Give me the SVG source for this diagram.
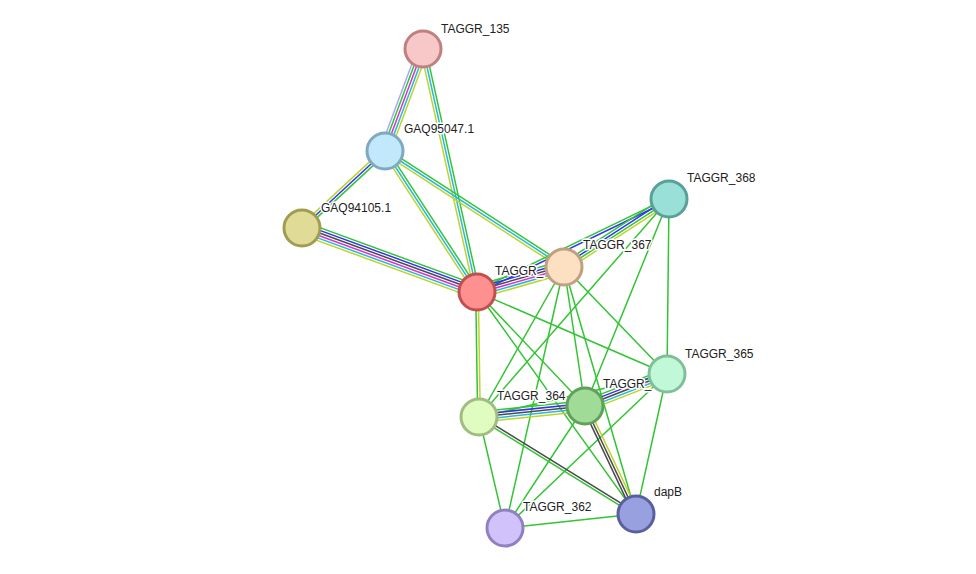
<svg xmlns="http://www.w3.org/2000/svg" width="976" height="574" viewBox="0 0 976 574">
<style>
.e line{stroke-width:1.5;fill:none}
.g{stroke:#33c433}.c{stroke:#2ab8d8}.m{stroke:#d434d4}.b{stroke:#3333ee}.k{stroke:#4a4a4a}.y{stroke:#bcd42c}.l{stroke:#a8a8f8}
.n circle{stroke-width:3}
.n text{font-family:"Liberation Sans",Arial,sans-serif;font-size:12px;fill:#222;stroke:#fff;stroke-width:3;stroke-linejoin:round;paint-order:stroke}
</style>
<rect width="976" height="574" fill="#fff"/>
<g id="connectors" class="e">
<!-- TAGGR_135 - GAQ95047.1 -->
<g transform="translate(423 49) rotate(110.43)">
<line class="l" x1="0" y1="5.2" x2="108.85" y2="5.2"/>
<line class="g" x1="0" y1="2.6" x2="108.85" y2="2.6"/>
<line class="m" x1="0" y1="0" x2="108.85" y2="0"/>
<line class="c" x1="0" y1="-2.6" x2="108.85" y2="-2.6"/>
<line class="y" x1="0" y1="-5.2" x2="108.85" y2="-5.2"/>
</g>
<!-- TAGGR_135 - TAGGR -->
<g transform="translate(423 49) rotate(77.47)">
<line class="y" x1="0" y1="2.6" x2="248.9" y2="2.6"/>
<line class="c" x1="0" y1="0" x2="248.9" y2="0"/>
<line class="g" x1="0" y1="-2.6" x2="248.9" y2="-2.6"/>
</g>
<!-- GAQ95047.1 - GAQ94105.1 -->
<g transform="translate(385 151) rotate(137.15)">
<line class="y" x1="0" y1="2.6" x2="113.2" y2="2.6"/>
<line class="b" x1="0" y1="0" x2="113.2" y2="0"/>
<line class="g" x1="0" y1="-2.6" x2="113.2" y2="-2.6"/>
</g>
<!-- GAQ95047.1 - TAGGR -->
<g transform="translate(385 151) rotate(56.88)">
<line class="y" x1="0" y1="2.6" x2="168.4" y2="2.6"/>
<line class="c" x1="0" y1="0" x2="168.4" y2="0"/>
<line class="g" x1="0" y1="-2.6" x2="168.4" y2="-2.6"/>
</g>
<!-- GAQ95047.1 - TAGGR_367 -->
<g transform="translate(385 151) rotate(32.95)">
<line class="y" x1="0" y1="2.6" x2="213.3" y2="2.6"/>
<line class="c" x1="0" y1="0" x2="213.3" y2="0"/>
<line class="g" x1="0" y1="-2.6" x2="213.3" y2="-2.6"/>
</g>
<!-- GAQ94105.1 - TAGGR -->
<g transform="translate(302 228) rotate(20.09)">
<line class="g" x1="0" y1="-6.5" x2="186.3" y2="-6.5"/>
<line class="b" x1="0" y1="-3.9" x2="186.3" y2="-3.9"/>
<line class="k" x1="0" y1="-1.3" x2="186.3" y2="-1.3"/>
<line class="m" x1="0" y1="1.3" x2="186.3" y2="1.3"/>
<line class="c" x1="0" y1="3.9" x2="186.3" y2="3.9"/>
<line class="y" x1="0" y1="6.5" x2="186.3" y2="6.5"/>
</g>
<!-- TAGGR - TAGGR_368 -->
<g transform="translate(477 292) rotate(-25.84)">
<line class="g" x1="0" y1="-1.3" x2="213.3" y2="-1.3"/>
<line class="b" x1="0" y1="1.3" x2="213.3" y2="1.3"/>
</g>
<!-- TAGGR - TAGGR_367 -->
<g transform="translate(477 292) rotate(-16.03)">
<line class="g" x1="0" y1="-6.5" x2="90.5" y2="-6.5"/>
<line class="b" x1="0" y1="-3.9" x2="90.5" y2="-3.9"/>
<line class="k" x1="0" y1="-1.3" x2="90.5" y2="-1.3"/>
<line class="m" x1="0" y1="1.3" x2="90.5" y2="1.3"/>
<line class="c" x1="0" y1="3.9" x2="90.5" y2="3.9"/>
<line class="y" x1="0" y1="6.5" x2="90.5" y2="6.5"/>
</g>
<!-- TAGGR_367 - TAGGR_368 -->
<g transform="translate(564 267) rotate(-32.93)">
<line class="g" x1="0" y1="-3.9" x2="125.1" y2="-3.9"/>
<line class="b" x1="0" y1="-1.3" x2="125.1" y2="-1.3"/>
<line class="g" x1="0" y1="1.3" x2="125.1" y2="1.3"/>
<line class="y" x1="0" y1="3.9" x2="125.1" y2="3.9"/>
</g>
<!-- TAGGR - TAGGR_364 -->
<g transform="translate(477 292) rotate(89.08)">
<line class="g" x1="0" y1="1.3" x2="125" y2="1.3"/>
<line class="y" x1="0" y1="-1.3" x2="125" y2="-1.3"/>
</g>
<!-- single green -->
<line class="g" x1="477" y1="292" x2="585" y2="406"/>
<line class="g" x1="477" y1="292" x2="636" y2="514"/>
<line class="g" x1="477" y1="292" x2="667" y2="374"/>
<line class="g" x1="564" y1="267" x2="479" y2="417"/>
<line class="g" x1="564" y1="267" x2="505" y2="528"/>
<line class="g" x1="564" y1="267" x2="585" y2="406"/>
<line class="g" x1="564" y1="267" x2="636" y2="514"/>
<line class="g" x1="564" y1="267" x2="667" y2="374"/>
<line class="g" x1="669" y1="199" x2="479" y2="417"/>
<line class="g" x1="669" y1="199" x2="585" y2="406"/>
<line class="g" x1="669" y1="199" x2="667" y2="374"/>
<line class="g" x1="479" y1="417" x2="505" y2="528"/>
<line class="g" x1="479" y1="417" x2="667" y2="374"/>
<line class="g" x1="585" y1="406" x2="505" y2="528"/>
<line class="g" x1="667" y1="374" x2="505" y2="528"/>
<line class="g" x1="667" y1="374" x2="636" y2="514"/>
<line class="g" x1="505" y1="528" x2="636" y2="514"/>
<!-- TAGGR_364 - TAGGR_366 -->
<g transform="translate(479 417) rotate(-5.92)">
<line class="g" x1="0" y1="-5.2" x2="106.6" y2="-5.2"/>
<line class="b" x1="0" y1="-2.6" x2="106.6" y2="-2.6"/>
<line class="k" x1="0" y1="0" x2="106.6" y2="0"/>
<line class="c" x1="0" y1="2.6" x2="106.6" y2="2.6"/>
<line class="y" x1="0" y1="5.2" x2="106.6" y2="5.2"/>
</g>
<!-- TAGGR_366 - TAGGR_365 -->
<g transform="translate(585 406) rotate(-21.32)">
<line class="g" x1="0" y1="-5.2" x2="88" y2="-5.2"/>
<line class="b" x1="0" y1="-2.6" x2="88" y2="-2.6"/>
<line class="k" x1="0" y1="0" x2="88" y2="0"/>
<line class="c" x1="0" y1="2.6" x2="88" y2="2.6"/>
<line class="y" x1="0" y1="5.2" x2="88" y2="5.2"/>
</g>
<!-- TAGGR_366 - dapB -->
<g transform="translate(585 406) rotate(64.72)">
<line class="k" x1="0" y1="2.6" x2="119.4" y2="2.6"/>
<line class="k" x1="0" y1="0" x2="119.4" y2="0"/>
<line class="y" x1="0" y1="-2.6" x2="119.4" y2="-2.6"/>
</g>
<!-- TAGGR_364 - dapB -->
<g transform="translate(479 417) rotate(31.71)">
<line class="k" x1="0" y1="-1.3" x2="184.5" y2="-1.3"/>
<line class="g" x1="0" y1="1.3" x2="184.5" y2="1.3"/>
</g>
</g>
<g id="TAGGR_135" class="n"><circle cx="423" cy="49" r="18" fill="#f8c8c8" stroke="#c08080"/><text x="441" y="33">TAGGR_135</text></g>
<g id="GAQ95047.1" class="n"><circle cx="385" cy="151" r="18" fill="#c2e8fb" stroke="#80a8c0"/><text x="404" y="133">GAQ95047.1</text></g>
<g id="GAQ94105.1" class="n"><circle cx="302" cy="228" r="18" fill="#e0dc98" stroke="#a09c50"/><text x="321" y="212">GAQ94105.1</text></g>
<g id="TAGGR" class="n"><circle cx="477" cy="292" r="18" fill="#ff9090" stroke="#c05050"/><text x="495" y="275">TAGGR_</text></g>
<g id="TAGGR_367" class="n"><circle cx="564" cy="267" r="18" fill="#fde0c2" stroke="#c0a080"/><text x="583" y="249">TAGGR_367</text></g>
<g id="TAGGR_368" class="n"><circle cx="669" cy="199" r="18" fill="#98e0d8" stroke="#58a098"/><text x="687" y="182">TAGGR_368</text></g>
<g id="TAGGR_364" class="n"><circle cx="479" cy="417" r="18" fill="#e0fcc0" stroke="#a0bc80"/><text x="497" y="400">TAGGR_364</text></g>
<g id="TAGGR_366" class="n"><circle cx="585" cy="406" r="18" fill="#a0dc98" stroke="#60a058"/><text x="603" y="388">TAGGR_</text></g>
<g id="TAGGR_365" class="n"><circle cx="667" cy="374" r="18" fill="#c0f8d8" stroke="#80c098"/><text x="685" y="358">TAGGR_365</text></g>
<g id="TAGGR_362" class="n"><circle cx="505" cy="528" r="18" fill="#d2c2fc" stroke="#9080c0"/><text x="523" y="511">TAGGR_362</text></g>
<g id="dapB" class="n"><circle cx="636" cy="514" r="18" fill="#98a0e0" stroke="#5860a0"/><text x="654" y="496">dapB</text></g>
</svg>
